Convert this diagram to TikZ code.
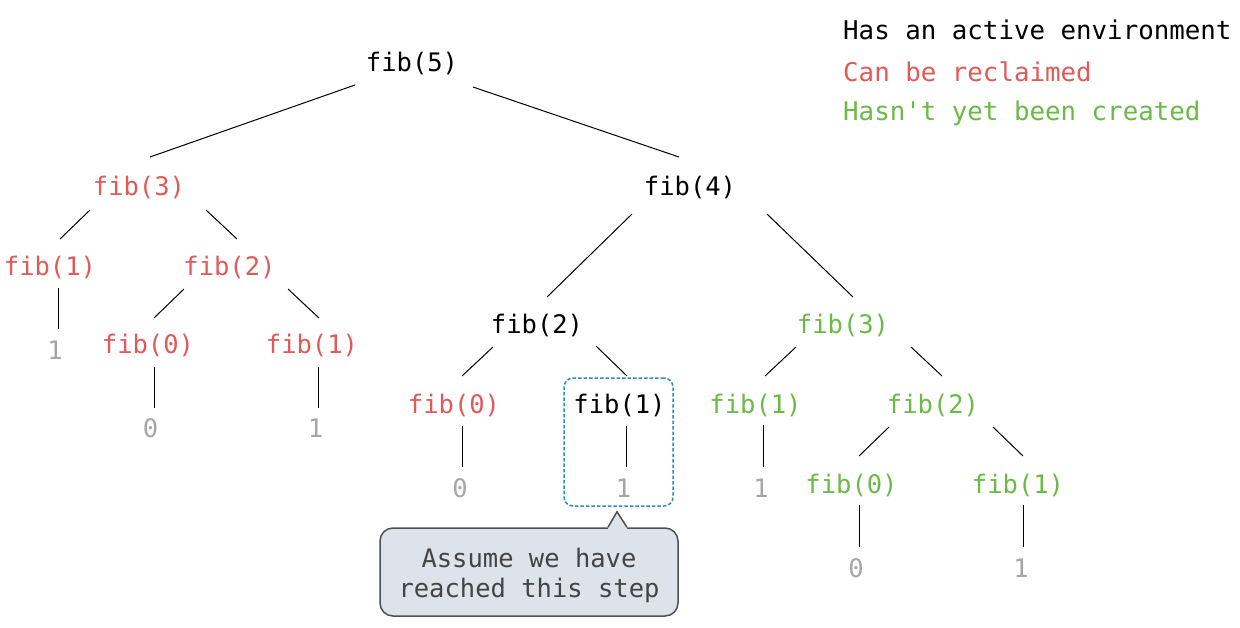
\documentclass[tikz,border=0pt]{standalone}
\usepackage{fontspec}
\setmainfont{DejaVu Sans Mono}
\definecolor{livered}{RGB}{224,90,90}
\definecolor{futuregreen}{RGB}{107,186,70}
\definecolor{leafgray}{RGB}{166,166,166}
\definecolor{focusblue}{RGB}{43,140,196}
\definecolor{notefill}{RGB}{220,227,234}
\definecolor{noteline}{RGB}{80,80,80}
\definecolor{notetext}{RGB}{68,68,68}
\tikzset{
  every node/.style={font=\fontsize{25.5}{30}\selectfont, inner sep=0pt, anchor=base},
  legendtext/.style={font=\fontsize{25.8}{30}\selectfont, anchor=base west},
  active/.style={text=black},
  reclaimed/.style={text=livered},
  pending/.style={text=futuregreen},
  leaf/.style={text=leafgray},
  edge/.style={draw=black, line width=1pt},
  focusbox/.style={draw=focusblue, line width=1.5pt, dash pattern=on 3.5pt off 2pt,
    rounded corners=9pt, minimum width=109pt, minimum height=128pt, anchor=center},
  notebox/.style={draw=noteline, fill=notefill, line width=1.5pt, rounded corners=13pt,
    minimum width=298pt, minimum height=88pt, anchor=center},
  notetxt/.style={text=notetext},
}
% connector between two nodes, each end shifted from the node's base point
\newcommand\treelink[4]{\draw[edge] ([shift={(#2)}]#1.base) -- ([shift={(#4)}]#3.base);}
\begin{document}
\begin{tikzpicture}[x=1pt,y=-1pt]
\useasboundingbox[fill=white] (0,0) rectangle (1240,627);

% legend
\node[legendtext, active]    (legA) at (843,39)  {Has an active environment};
\node[legendtext, reclaimed] (legB) at (843,81)  {Can be reclaimed};
\node[legendtext, pending]   (legC) at (843,120) {Hasn\textquotesingle t yet been created};

% call tree
\node[active]    (n5)  at (412,71)    {fib(5)};
\node[reclaimed] (n3a) at (139,195)   {fib(3)};
\node[active]    (n4)  at (690,195)   {fib(4)};
\node[reclaimed] (n1a) at (50,275)    {fib(1)};
\node[reclaimed] (n2a) at (229.5,275) {fib(2)};
\node[leaf]      (v1a) at (55,359)    {1};
\node[reclaimed] (n0a) at (148,353)   {fib(0)};
\node[reclaimed] (n1b) at (312,353)   {fib(1)};
\node[leaf]      (v0a) at (150.5,437) {0};
\node[leaf]      (v1b) at (315.5,437) {1};
\node[active]    (n2b) at (537,333)   {fib(2)};
\node[pending]   (n3b) at (843,333)   {fib(3)};
\node[reclaimed] (n0b) at (454,413)   {fib(0)};
\node[active]    (n1c) at (619.5,413) {fib(1)};
\node[leaf]      (v0b) at (460,497)   {0};
\node[leaf]      (v1c) at (623.5,497) {1};
\node[pending]   (n1d) at (755.5,413) {fib(1)};
\node[pending]   (n2c) at (933,413)   {fib(2)};
\node[leaf]      (v1d) at (761,497)   {1};
\node[pending]   (n0c) at (851.5,493) {fib(0)};
\node[pending]   (n1e) at (1018,493)  {fib(1)};
\node[leaf]      (v0c) at (856,577)   {0};
\node[leaf]      (v1e) at (1021,577)  {1};

\treelink{n5}{-57,14}{n3a}{11,-38}
\treelink{n5}{61,16}{n4}{-11,-38}
\treelink{n3a}{-49,15}{n1a}{10,-36}
\treelink{n3a}{67,15}{n2a}{7.5,-36}
\treelink{n1a}{8,13}{v1a}{3,-30}
\treelink{n2a}{-45.5,14}{n0a}{6,-35}
\treelink{n2a}{58.5,14}{n1b}{7,-35}
\treelink{n0a}{6,14}{v0a}{3.5,-29}
\treelink{n1b}{6,14}{v1b}{2.5,-29}
\treelink{n4}{-58,19}{n2b}{10,-36}
\treelink{n4}{77,19}{n3b}{10,-36}
\treelink{n2b}{-44,14}{n0b}{8,-37}
\treelink{n2b}{59,13}{n1c}{7.5,-37}
\treelink{n0b}{8,13}{v0b}{2,-30}
\treelink{n1c}{6.5,13}{v1c}{2.5,-30}
\treelink{n3b}{-47,14}{n1d}{9.5,-37}
\treelink{n3b}{68,14}{n2c}{9,-37}
\treelink{n1d}{7.5,12}{v1d}{2,-30}
\treelink{n2c}{-44,14}{n0c}{7.5,-37}
\treelink{n2c}{60,14}{n1e}{5,-37}
\treelink{n0c}{7.5,12}{v0c}{3,-30}
\treelink{n1e}{5,12}{v1e}{2,-30}

% current step highlight
\node[focusbox] (focus) at (618.5,442) {};

% callout note pointing at the highlighted step
\node[notebox] (note) at (529,572) {};
\coordinate (tip) at ([shift={(-1.5,5)}]focus.south);
\fill[notefill] ([xshift=79pt]note.north) -- (tip) -- ([xshift=98pt]note.north)
  -- ([shift={(98,3)}]note.north) -- ([shift={(79,3)}]note.north) -- cycle;
\draw[noteline, line width=1.5pt, line join=miter] ([xshift=79pt]note.north) -- (tip) -- ([xshift=98pt]note.north);
\node[notetxt] (noteA) at (529,567) {Assume we have};
\node[notetxt] (noteB) at (529,597) {reached this step};
\end{tikzpicture}
\end{document}
